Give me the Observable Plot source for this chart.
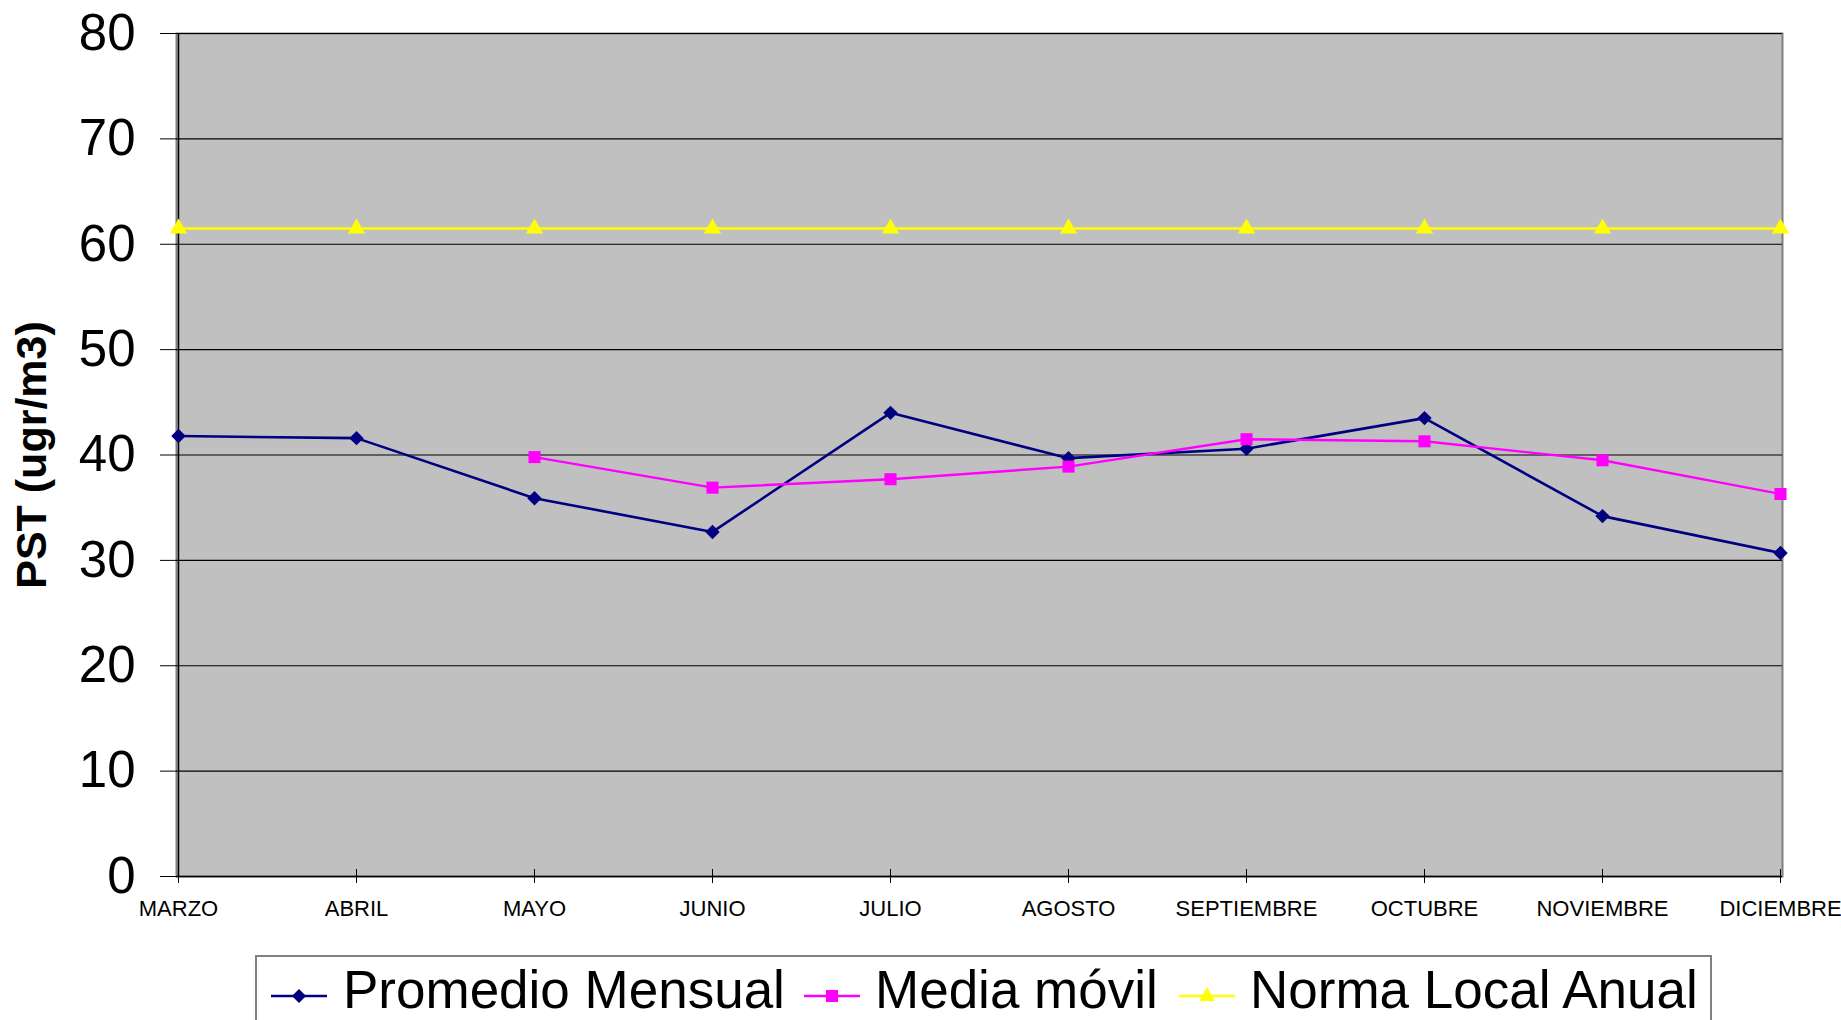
<!DOCTYPE html>
<html>
<head>
<meta charset="utf-8">
<script src="https://cdn.jsdelivr.net/npm/d3@7"></script>
<script src="https://cdn.jsdelivr.net/npm/@observablehq/plot@0.6"></script>
<style>
  html, body { margin: 0; padding: 0; background: #fff; overflow: hidden; width: 1841px; height: 1020px; }
  #chart { position: absolute; left: 0; top: 0; }
  #legendBox { position: absolute; left: 255px; top: 955px; width: 1457px; height: 130px; border: 2px solid #808080; box-sizing: border-box; background: #fff; }
  .lg { position: absolute; top: 969px; font-family: "Liberation Sans", Arial, sans-serif; font-size: 53px; line-height: 0.8; color: #000; white-space: nowrap; }
  .sw { position: absolute; top: 986px; }
</style>
</head>
<body>
<div id="chart"></div>
<div id="legendBox"></div>
<div id="legend"></div>
<script>
const months = ["MARZO","ABRIL","MAYO","JUNIO","JULIO","AGOSTO","SEPTIEMBRE","OCTUBRE","NOVIEMBRE","DICIEMBRE"];
const promedioMensual = [41.8, 41.6, 35.9, 32.7, 44.0, 39.7, 40.6, 43.5, 34.2, 30.7];
const mediaMovil = [null, null, 39.8, 36.9, 37.7, 38.9, 41.5, 41.3, 39.5, 36.3];
const normaLocalAnual = [61.5, 61.5, 61.5, 61.5, 61.5, 61.5, 61.5, 61.5, 61.5, 61.5];
const yTicks = [0, 10, 20, 30, 40, 50, 60, 70, 80];
const seriesNames = ["Promedio Mensual", "Media móvil", "Norma Local Anual"];
const seriesColors = ["#000080", "#FF00FF", "#FFFF00"];
const seriesSymbols = ["diamond2", "square", "triangle"];

const rows = (vals) => months.map((m, i) => ({month: m, v: vals[i]}));
const dProm = rows(promedioMensual);
const dMedia = rows(mediaMovil);
const dNorma = rows(normaLocalAnual);

const plot = Plot.plot({
  width: 1841,
  height: 940,
  marginLeft: 176,
  marginRight: 59,
  marginTop: 33,
  marginBottom: 64,
  style: {fontFamily: "'Liberation Sans', Arial, sans-serif", color: "#000", background: "#fff", overflow: "visible"},
  x: {type: "point", domain: months, padding: 0},
  y: {domain: [0, 80]},
  marks: [
    Plot.frame({fill: "#C0C0C0", stroke: "#808080", strokeWidth: 2}),
    Plot.gridY(yTicks, {stroke: "#000", strokeOpacity: 1, strokeWidth: 1.2}),
    Plot.ruleX([months[0]], {stroke: "#000", strokeWidth: 1.5}),
    Plot.ruleY([0], {stroke: "#000", strokeWidth: 1.5}),
    Plot.axisY(yTicks, {tickSize: 16, tickPadding: 25, fontSize: 51, tickFormat: d => String(d),
      label: "PST (ugr/m3)", labelAnchor: "center", labelArrow: "none", labelOffset: 161}),
    Plot.axisX({tickSize: 7, tickPadding: 17, fontSize: 22, label: null}),
    Plot.axisX({tickSize: -7, tickFormat: () => "", label: null}),
    Plot.line(dProm, {x: "month", y: "v", stroke: seriesColors[0], strokeWidth: 2.6}),
    Plot.dot(dProm, {x: "month", y: "v", symbol: seriesSymbols[0], r: 6.5, fill: seriesColors[0], stroke: null}),
    Plot.line(dMedia, {x: "month", y: "v", stroke: seriesColors[1], strokeWidth: 2.4}),
    Plot.dot(dMedia, {x: "month", y: "v", symbol: seriesSymbols[1], r: 6.8, fill: seriesColors[1], stroke: null}),
    Plot.line(dNorma, {x: "month", y: "v", stroke: seriesColors[2], strokeWidth: 2.6}),
    Plot.dot(dNorma, {x: "month", y: "v", symbol: seriesSymbols[2], r: 6.4, fill: seriesColors[2], stroke: null})
  ]
});
document.getElementById("chart").appendChild(plot);

// style y axis title
d3.select(plot).selectAll('g[aria-label="y-axis label"] text')
  .style("font-size", "43px").style("font-weight", "bold");

// legend
const legend = document.getElementById("legend");
const swLeft = [271, 804, 1179];
const txLeft = [343, 875, 1250];
const symPath = {
  diamond2: "M0,-7L7,0L0,7L-7,0Z",
  square: "M-6,-6H6V6H-6Z",
  triangle: "M0,-9L8,5H-8Z"
};
seriesNames.forEach((name, i) => {
  const sw = document.createElement("div");
  sw.className = "sw";
  sw.style.left = swLeft[i] + "px";
  sw.innerHTML = `<svg width="56" height="20" viewBox="-28 -10 56 20"><line x1="-28" x2="28" y1="0" y2="0" stroke="${seriesColors[i]}" stroke-width="2.6"/><path d="${symPath[seriesSymbols[i]]}" fill="${seriesColors[i]}"/></svg>`;
  legend.appendChild(sw);
  const tx = document.createElement("div");
  tx.className = "lg";
  tx.style.left = txLeft[i] + "px";
  tx.textContent = name;
  legend.appendChild(tx);
});
</script>
</body>
</html>
